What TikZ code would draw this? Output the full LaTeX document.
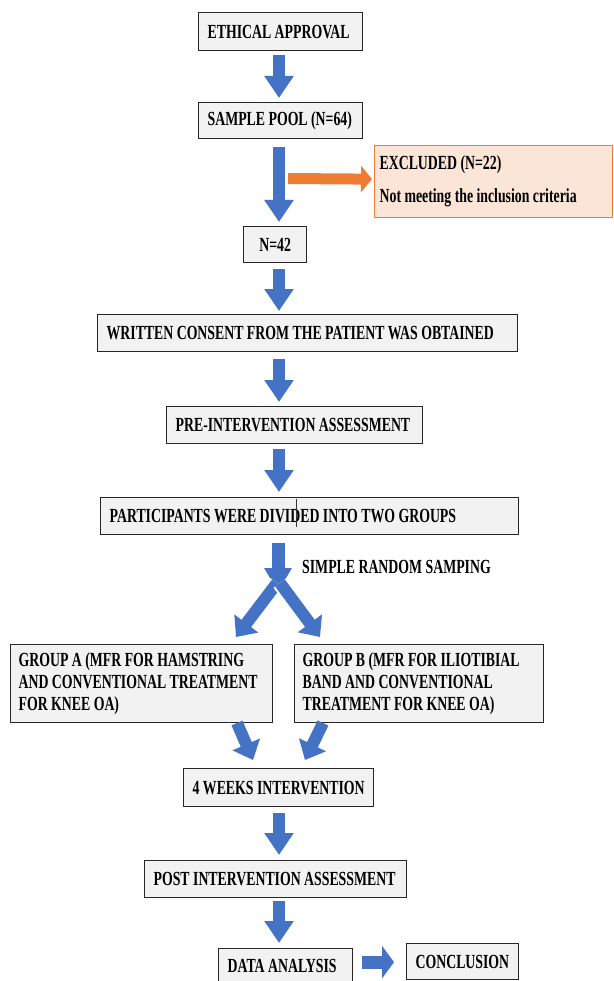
\documentclass[tikz,border=0pt]{standalone}
\usepackage{fontspec}
\setmainfont{Liberation Serif}[FakeStretch=0.69, WordSpace=1.0]
\usetikzlibrary{arrows.meta,calc}
\definecolor{boxfill}{HTML}{F2F2F2}
\definecolor{arrblue}{HTML}{4472C4}
\definecolor{orangeA}{HTML}{ED7D31}
\definecolor{peach}{HTML}{FBE5D6}
\begin{document}
\begin{tikzpicture}[x=1pt,y=-1pt,
  box/.style={draw=black!85, line width=1.3pt, fill=boxfill,
    font=\fontsize{20}{22}\selectfont\bfseries, inner xsep=9pt, inner ysep=0pt,
    align=flush left, anchor=north west},
  blk/.style={draw=arrblue, line width=12pt, -{Triangle[width=28pt,length=22pt]}},
  blkw/.style={draw=white, line width=16pt, -{Triangle[width=34pt,length=20pt]}},
  blkb/.style={draw=arrblue, line width=12pt, -{Triangle[width=29pt,length=17pt]}},
  oarr/.style={draw=orangeA, line width=11pt, -{Triangle[width=26pt,length=11pt]}},
  lbl/.style={font=\fontsize{20}{22}\selectfont\bfseries, inner sep=0pt, anchor=west}]
\clip (0,0) rectangle (613,981);
\fill[white] (0,0) rectangle (613,981);
\coordinate (ax) at (279,0);

% boxes
\node[box, text width=146pt, minimum height=38pt] (ethic) at (198,12) {\mbox{ETHICAL APPROVAL}};
\node[box, text width=146pt, minimum height=36pt] (pool) at (198,102) {\mbox{SAMPLE POOL (N=64)}};
\node[box, draw=orangeA, fill=peach, inner xsep=5pt, text width=228pt, minimum height=72pt,
  font=\fontsize{20}{22}\selectfont\bfseries] (excl) at (374,145)
  {\mbox{EXCLUDED (N=22)}\\[11pt]\mbox{Not meeting the inclusion criteria}};
\node[box, align=flush center, inner xsep=4pt, text width=55pt, minimum height=36pt] (n42) at (243,226) {N=42};
\node[box, text width=402pt, minimum height=37pt] (written) at (97,314) {\mbox{WRITTEN CONSENT FROM THE PATIENT WAS OBTAINED}};
\node[box, text width=238pt, minimum height=37pt] (pre) at (166,406) {\mbox{PRE-INTERVENTION ASSESSMENT}};
\node[box, text width=400pt, minimum height=37pt] (part) at (100,497) {\mbox{PARTICIPANTS WERE DIVIDED INTO TWO GROUPS}};
\draw[line width=0.8pt, black!80] (296,499) -- (296,527);
\node[lbl] (srs) at (302,567) {SIMPLE RANDOM SAMPING};
\node[box, inner xsep=8pt, text width=246pt, minimum height=78pt] (grpA) at (10,644)
  {\mbox{GROUP A (MFR FOR HAMSTRING}\\\mbox{AND CONVENTIONAL TREATMENT}\\\mbox{FOR KNEE OA)}};
\node[box, inner xsep=8pt, text width=233pt, minimum height=78pt] (grpB) at (294,644)
  {\mbox{GROUP B (MFR FOR ILIOTIBIAL}\\\mbox{BAND AND CONVENTIONAL}\\\mbox{TREATMENT FOR KNEE OA)}};
\node[box, text width=172pt, minimum height=38pt] (weeks) at (183,768) {\mbox{4 WEEKS INTERVENTION}};
\node[box, text width=244pt, minimum height=37pt] (post) at (144,860) {\mbox{POST INTERVENTION ASSESSMENT}};
\node[box, text width=116pt, minimum height=34pt] (data) at (218,948) {\mbox{DATA ANALYSIS}};
\node[box, text width=94pt, minimum height=36pt] (concl) at (406,943) {\mbox{CONCLUSION}};

% straight block arrows
\draw[blk] ($(ethic.south -| ax)+(0,4)$) -- ($(pool.north -| ax)+(0,-4)$);
\draw[blk] ($(pool.south -| ax)+(0,8)$) -- ($(n42.north -| ax)+(0,-4)$);
\draw[blk] ($(n42.south -| ax)+(0,6)$) -- ($(written.north -| ax)+(0,-3)$);
\draw[blk] ($(written.south -| ax)+(0,7)$) -- ($(pre.north -| ax)+(0,-4)$);
\draw[blk] ($(pre.south -| ax)+(0,5)$) -- ($(part.north -| ax)+(0,-5)$);
\draw[blk] ($(weeks.south -| ax)+(0,6)$) -- ($(post.north -| ax)+(0,-5)$);
\draw[blk] ($(post.south -| ax)+(0,3)$) -- ($(data.north -| ax)+(0,-5)$);

% excluded arrow
\coordinate (ostart) at (288,178.5);
\draw[oarr] (ostart) -- ($(excl.west)+(-2,-2.5)$);

% split arrows
\coordinate (sps) at (278,543);
\coordinate (spe) at (278,592);
\coordinate (bl) at (277,583);
\coordinate (br) at (280,583);
\coordinate (tl) at (236,637);
\coordinate (tr) at (320,637);
\draw[draw=arrblue, line width=13pt, -{Triangle[width=26pt,length=24pt]}] (sps) -- (spe);
\draw[blkw] (bl) -- (tl);
\draw[blkb] (bl) -- (tl);
\draw[blkw] (br) -- (tr);
\draw[blkb] (br) -- (tr);

% converging arrows
\coordinate (cl) at (237,723);
\coordinate (cr) at (323,723);
\draw[blkb] (cl) -- ($(weeks.north -| 253,0)+(0,-8)$);
\draw[blkb] (cr) -- ($(weeks.north -| 305,0)+(0,-8)$);

% data -> conclusion
\draw[draw=arrblue, line width=13pt, -{Triangle[width=32pt,length=12pt]}]
  ($(concl.west)+(-44,0.5)$) -- ($(concl.west)+(-12,0.5)$);
\end{tikzpicture}
\end{document}
